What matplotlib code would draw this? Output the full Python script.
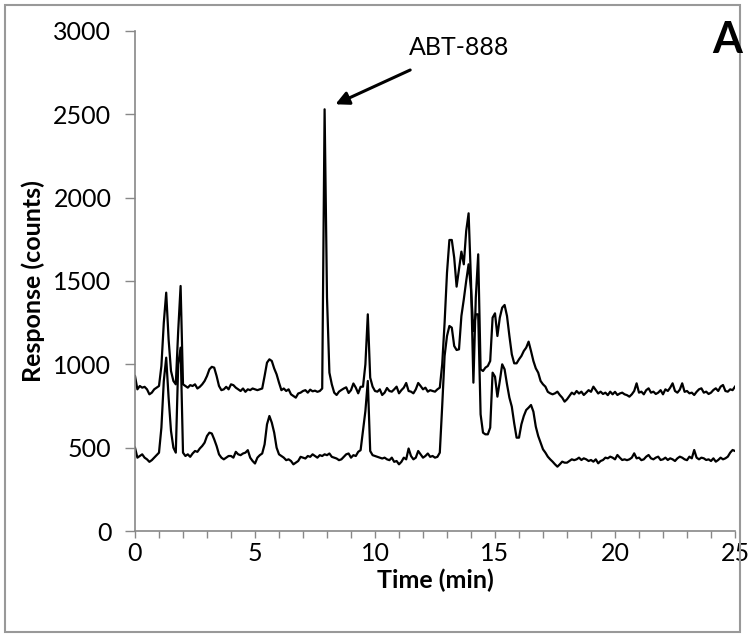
import numpy as np
import matplotlib
matplotlib.use("Agg")
import matplotlib.pyplot as plt
from matplotlib.patches import Rectangle

plt.rcParams["font.family"] = ["Lato", "DejaVu Sans"]

# sampling grid (min) and the two traces (counts)
time_min = np.round(np.arange(0, 25.05, 0.1), 1)

trace_upper = [
    930, 850, 870, 860, 865, 850, 820, 830, 850, 860,
    870, 990, 1250, 1430, 1150, 960, 900, 880, 1200, 1470,
    880, 870, 860, 875, 870, 880, 855, 865, 880, 900,
    930, 970, 985, 980, 930, 870, 845, 850, 865, 850,
    880, 875, 860, 850, 840, 855, 835, 850, 845, 855,
    850, 845, 850, 855, 930, 1010, 1030, 1020, 975, 940,
    890, 845, 855, 840, 850, 820, 810, 800, 825, 830,
    840, 845, 830, 848, 838, 842, 835, 840, 855, 2530,
    1400, 950, 880, 830, 816, 836, 846, 855, 862, 828,
    845, 885, 860, 826, 865, 866, 1000, 1300, 920, 866,
    840, 836, 850, 816, 830, 858, 840, 836, 850, 866,
    826, 845, 860, 888, 840, 836, 826, 850, 888, 870,
    850, 860, 836, 845, 840, 836, 850, 860, 1000, 1250,
    1550, 1746, 1746, 1640, 1466, 1570, 1676, 1600, 1800, 1906,
    1500, 890, 1400, 1660, 970, 960, 980, 990, 1020, 1280,
    1306, 1170, 1280, 1340, 1356, 1290, 1170, 1060, 1006, 1006,
    1030, 1050, 1080, 1100, 1136, 1080, 1020, 976, 950, 900,
    880, 866, 835, 826, 820, 826, 836, 816, 800, 776,
    790, 810, 830, 820, 840, 825, 836, 816, 830, 845,
    835, 866, 845, 825, 836, 822, 830, 815, 836, 820,
    835, 816, 825, 830, 820, 815, 806, 820, 840, 886,
    830, 836, 820, 845, 856, 830, 836, 822, 830, 845,
    820, 850, 840, 860, 886, 840, 830, 848, 886, 835,
    840, 826, 830, 816, 835, 850, 856, 830, 836, 822,
    830, 846, 856, 840, 866, 876, 840, 836, 850, 845,
    866,
]

trace_lower = [
    500, 440, 450, 460, 440, 430, 415, 425, 440, 455,
    470, 620, 900, 1040, 800, 600, 500, 470, 1000, 1100,
    470, 450, 460, 445, 465, 480, 475, 495, 510, 530,
    570, 590, 585, 550, 510, 460, 440, 430, 440, 450,
    450, 440, 475, 460, 455, 465, 470, 485, 440, 420,
    405, 440, 455, 465, 520, 640, 690, 650, 590, 500,
    460, 450, 440, 425, 430, 420, 400, 410, 420, 445,
    440, 435, 450, 445, 460, 450, 440, 455, 450, 460,
    455, 465, 445, 440, 435, 425, 430, 445, 460, 465,
    440, 455, 450, 475, 485, 600, 720, 900, 480, 455,
    450, 445, 440, 435, 440, 430, 425, 440, 415, 420,
    400, 415, 440, 430, 495, 450, 430, 440, 480, 460,
    440, 450, 465, 445, 450, 440, 445, 470, 750, 1050,
    1170, 1230, 1220, 1110, 1086, 1090, 1290, 1390, 1500, 1600,
    1450, 1200, 1300, 1300, 700, 590, 580, 580, 620, 950,
    926, 806, 900, 1000, 970, 880, 800, 746, 646, 560,
    560, 640, 690, 726, 740, 756, 716, 626, 570, 530,
    490, 470, 446, 430, 416, 400, 386, 400, 416, 410,
    410, 420, 430, 425, 430, 440, 426, 436, 430, 420,
    426, 416, 430, 406, 420, 426, 440, 436, 446, 440,
    430, 456, 440, 426, 430, 425, 430, 440, 466, 436,
    440, 425, 430, 446, 456, 436, 430, 440, 446, 426,
    430, 440, 426, 436, 430, 420, 436, 446, 440, 430,
    425, 446, 436, 486, 440, 430, 440, 436, 426, 430,
    420, 436, 416, 426, 440, 430, 436, 446, 470, 486,
    480,
]

peak_label = "ABT-888"
peak_tip = (8.35, 2560)     # arrow head, data coords
peak_text = (13.5, 2900)

x_ticks = [0, 5, 10, 15, 20, 25]
y_ticks = [0, 500, 1000, 1500, 2000, 2500, 3000]

GREY = "#888888"

fig = plt.figure(figsize=(7.5, 6.37), dpi=100)
ax = fig.add_axes([0.18, 0.1664, 0.8, 0.785])

ax.plot(time_min, trace_upper, color="black", lw=1.6)
ax.plot(time_min, trace_lower, color="black", lw=1.6)

ax.annotate(peak_label, xy=peak_tip, xytext=peak_text, fontsize=18,
            ha="center", va="center",
            arrowprops=dict(arrowstyle="-|>", color="black", lw=2.2,
                            mutation_scale=20, shrinkA=14, shrinkB=0))

ax.set_xlim(0, 25); ax.set_ylim(0, 3000)
ax.set_xticks(x_ticks); ax.set_yticks(y_ticks)
ax.set_xticks(range(0, 26), minor=True)
for s in ("top", "right"):
    ax.spines[s].set_visible(False)
for s in ("left", "bottom"):
    ax.spines[s].set_color(GREY); ax.spines[s].set_linewidth(1.2)
ax.tick_params(axis="both", which="both", direction="out", color=GREY,
               labelsize=18, width=1.0)
ax.tick_params(axis="y", length=7, pad=10)
ax.tick_params(axis="x", which="both", length=5, pad=3)

ax.set_xlabel("Time (min)", fontsize=18, fontweight="bold")
ax.set_ylabel("Response (counts)", fontsize=18, fontweight="bold")
ax.xaxis.set_label_coords(0.5, -0.075)
ax.yaxis.set_label_coords(-0.15, 0.5)

fig.text(0.969, 0.937, "A", fontsize=31, fontweight="bold", ha="center", va="center")
fig.patches.append(Rectangle((0.007, 0.008), 0.98, 0.984, transform=fig.transFigure,
                             fill=False, edgecolor="#999999", lw=1.5))

fig.savefig("out.png", dpi=100)
